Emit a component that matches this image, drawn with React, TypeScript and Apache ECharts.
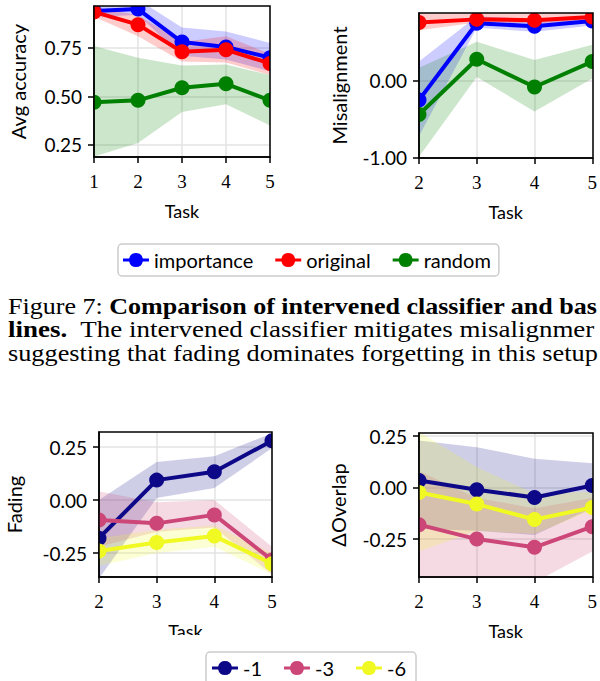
import React, { useEffect, useRef } from 'react';
import * as echarts from 'echarts';

// ---------- data ----------
const tasksAll = [1, 2, 3, 4, 5];
const tasksLater = [2, 3, 4, 5];

const accImportance = [0.94, 0.95, 0.78, 0.755, 0.7];
const accImportanceLo = [0.91, 0.92, 0.71, 0.69, 0.63];
const accImportanceHi = [1.0, 1.0, 0.855, 0.835, 0.775];
const accOriginal = [0.935, 0.87, 0.73, 0.74, 0.67];
const accOriginalLo = [0.91, 0.81, 0.68, 0.675, 0.61];
const accOriginalHi = [0.96, 0.92, 0.78, 0.81, 0.72];
const accRandom = [0.47, 0.48, 0.545, 0.565, 0.48];
const accRandomLo = [0.19, 0.26, 0.42, 0.46, 0.35];
const accRandomHi = [0.76, 0.7, 0.66, 0.665, 0.61];

const misImportance = [-0.25, 0.75, 0.71, 0.78];
const misImportanceLo = [-0.72, 0.69, 0.64, 0.72];
const misImportanceHi = [0.25, 0.84, 0.8, 0.84];
const misOriginal = [0.76, 0.8, 0.79, 0.83];
const misOriginalLo = [0.66, 0.76, 0.75, 0.78];
const misOriginalHi = [0.88, 0.88, 0.88, 0.89];
const misRandom = [-0.44, 0.28, -0.08, 0.25];
const misRandomLo = [-0.99, 0.05, -0.4, 0.03];
const misRandomHi = [0.17, 0.51, 0.27, 0.47];

const fadeM1 = [-0.18, 0.094, 0.133, 0.28];
const fadeM1Lo = [-0.37, 0.01, 0.057, 0.245];
const fadeM1Hi = [0.0, 0.18, 0.207, 0.315];
const fadeM3 = [-0.094, -0.11, -0.07, -0.283];
const fadeM3Lo = [-0.22, -0.15, -0.13, -0.35];
const fadeM3Hi = [0.04, -0.01, 0.0, -0.22];
const fadeM6 = [-0.24, -0.2, -0.17, -0.3];
const fadeM6Lo = [-0.31, -0.25, -0.22, -0.35];
const fadeM6Hi = [-0.18, -0.14, -0.12, -0.25];

const ovM1 = [0.034, -0.01, -0.048, 0.01];
const ovM1Lo = [-0.2, -0.21, -0.23, -0.1];
const ovM1Hi = [0.228, 0.196, 0.14, 0.118];
const ovM3 = [-0.18, -0.25, -0.29, -0.19];
const ovM3Lo = [-0.46, -0.46, -0.46, -0.31];
const ovM3Hi = [0.08, -0.05, -0.1, -0.05];
const ovM6 = [-0.024, -0.08, -0.155, -0.097];
const ovM6Lo = [-0.31, -0.21, -0.225, -0.11];
const ovM6Hi = [0.27, 0.1, -0.03, -0.02];

const legendTop = ['importance', 'original', 'random'];
const legendBottom = ['-1', '-3', '-6'];

const yTicksAcc = [0.25, 0.5, 0.75];
const yTicksMis = [-1, 0];
const yTicksFade = [-0.25, 0, 0.25];
const yTicksOv = [-0.25, 0, 0.25];

const captionLine1a = 'Figure 7: ';
const captionLine1b = 'Comparison of intervened classifier and bas';
const captionLine2a = 'lines.';
const captionLine2b = '  The intervened classifier mitigates misalignmer';
const captionLine3 = 'suggesting that fading dominates forgetting in this setup';

// ---------- style ----------
const BLUE = '#0000ff';
const RED = '#ff0000';
const GREEN = '#008000';
const NAVY = '#0d0887';
const PINK = '#cc4778';
const YELLOW = '#f0f921';

const grids = [
  { left: 94, top: 6, width: 176, height: 151, xmin: 1, ymin: 0.188, ymax: 0.966, ticks: yTicksAcc, name: 'Avg accuracy', gap: 66 },
  { left: 419, top: 13, width: 174, height: 145, xmin: 2, ymin: -1.005, ymax: 0.883, ticks: yTicksMis, name: 'Misalignment', gap: 70 },
  { left: 99, top: 432, width: 173, height: 145, xmin: 2, ymin: -0.363, ymax: 0.321, ticks: yTicksFade, name: 'Fading', gap: 75 },
  { left: 419, top: 433, width: 174, height: 144, xmin: 2, ymin: -0.434, ymax: 0.265, ticks: yTicksOv, name: '\u0394Overlap', gap: 71 },
];

const LEGEND_ICON = 'path://M0,5.5H6.16A7,7 0 0 1 19.84,5.5H26V8.5H19.84A7,7 0 0 1 6.16,8.5H0Z';

function band(gi: number, xs: number[], lo: number[], hi: number[], color: string) {
  return {
    type: 'custom',
    xAxisIndex: gi,
    yAxisIndex: gi,
    clip: true,
    silent: true,
    z: 1,
    data: xs.map((x, i) => [x, lo[i], hi[i]]),
    encode: { x: 0, y: [1, 2] },
    renderItem: (params: any, api: any) => {
      if (params.dataIndex !== 0) return null;
      const top = xs.map((x, i) => api.coord([x, hi[i]]));
      const bot = xs.map((x, i) => api.coord([x, lo[i]])).reverse();
      return {
        type: 'polygon',
        shape: { points: top.concat(bot) },
        style: { fill: echarts.color.modifyAlpha(color, 0.2), stroke: 'none' },
      };
    },
  };
}

function line(gi: number, name: string, xs: number[], ys: number[], color: string) {
  return {
    type: 'custom',
    name,
    xAxisIndex: gi,
    yAxisIndex: gi,
    clip: true,
    silent: true,
    z: 2,
    itemStyle: { color },
    data: xs.map((x, i) => [x, ys[i]]),
    encode: { x: 0, y: 1 },
    renderItem: (params: any, api: any) => {
      if (params.dataIndex !== 0) return null;
      const pts = xs.map((x, i) => api.coord([x, ys[i]]));
      return {
        type: 'group',
        children: [
          {
            type: 'polyline',
            shape: { points: pts },
            style: { stroke: color, lineWidth: 4, fill: null, lineJoin: 'round' },
          },
          ...pts.map((p: number[]) => ({
            type: 'circle',
            shape: { cx: p[0], cy: p[1], r: 7.5 },
            style: { fill: color, stroke: 'none' },
          })),
        ],
      };
    },
  };
}

export default function App() {
  const ref = useRef<HTMLDivElement>(null);
  useEffect(() => {
    if (!ref.current) return;
    const chart = echarts.init(ref.current, undefined, { renderer: 'svg' });

    const series: any[] = [
      band(0, tasksAll, accImportanceLo, accImportanceHi, BLUE),
      band(0, tasksAll, accOriginalLo, accOriginalHi, RED),
      band(0, tasksAll, accRandomLo, accRandomHi, GREEN),
      line(0, legendTop[0], tasksAll, accImportance, BLUE),
      line(0, legendTop[1], tasksAll, accOriginal, RED),
      line(0, legendTop[2], tasksAll, accRandom, GREEN),

      band(1, tasksLater, misImportanceLo, misImportanceHi, BLUE),
      band(1, tasksLater, misOriginalLo, misOriginalHi, RED),
      band(1, tasksLater, misRandomLo, misRandomHi, GREEN),
      line(1, legendTop[0], tasksLater, misImportance, BLUE),
      line(1, legendTop[1], tasksLater, misOriginal, RED),
      line(1, legendTop[2], tasksLater, misRandom, GREEN),

      band(2, tasksLater, fadeM1Lo, fadeM1Hi, NAVY),
      band(2, tasksLater, fadeM3Lo, fadeM3Hi, PINK),
      band(2, tasksLater, fadeM6Lo, fadeM6Hi, YELLOW),
      line(2, legendBottom[0], tasksLater, fadeM1, NAVY),
      line(2, legendBottom[1], tasksLater, fadeM3, PINK),
      line(2, legendBottom[2], tasksLater, fadeM6, YELLOW),

      band(3, tasksLater, ovM1Lo, ovM1Hi, NAVY),
      band(3, tasksLater, ovM3Lo, ovM3Hi, PINK),
      band(3, tasksLater, ovM6Lo, ovM6Hi, YELLOW),
      line(3, legendBottom[0], tasksLater, ovM1, NAVY),
      line(3, legendBottom[1], tasksLater, ovM3, PINK),
      line(3, legendBottom[2], tasksLater, ovM6, YELLOW),
    ];

    const legendCommon = {
      orient: 'horizontal',
      itemWidth: 26,
      itemHeight: 14,
      itemGap: 22,
      borderColor: '#cccccc',
      borderWidth: 1.5,
      borderRadius: 4,
      backgroundColor: '#ffffff',
      selectedMode: false,
      textStyle: { fontFamily: 'Lato', fontSize: 20, color: '#000' },
    };

    const capY1 = 306;
    const capStep = 23.5;
    const serif = 'Liberation Serif';
    const capSize = 24;
    const richCap = {
      n: { fontFamily: serif, fontSize: capSize, fill: '#000' },
      b: { fontFamily: serif, fontSize: capSize, fontWeight: 'bold', fill: '#000' },
    };

    chart.setOption({
      animation: false,
      backgroundColor: '#ffffff',
      grid: grids.map((g) => ({
        left: g.left,
        top: g.top,
        width: g.width,
        height: g.height,
        show: false,
        containLabel: false,
      })),
      xAxis: grids.map((g, i) => ({
        type: 'value',
        gridIndex: i,
        min: g.xmin,
        max: 5,
        interval: 1,
        axisLine: { show: true, onZero: false, lineStyle: { color: '#000', width: 1.5 } },
        axisTick: { show: true, length: 6, lineStyle: { color: '#000', width: 1.5 } },
        axisLabel: { fontFamily: serif, fontSize: 19, color: '#000', margin: 15 },
        splitLine: { show: true, lineStyle: { color: '#e3e3e3', width: 1.5 } },
        name: 'Task',
        nameLocation: 'middle',
        nameGap: 45,
        nameTextStyle: { fontFamily: 'Lato', fontSize: 18, color: '#000' },
      })),
      yAxis: grids.map((g, i) => ({
        type: 'value',
        gridIndex: i,
        min: g.ymin,
        max: g.ymax,
        axisLine: { show: true, onZero: false, lineStyle: { color: '#000', width: 1.5 } },
        axisTick: { show: true, length: 6, customValues: g.ticks, lineStyle: { color: '#000', width: 1.5 } },
        axisLabel: {
          customValues: g.ticks,
          fontFamily: 'Lato',
          fontSize: 19,
          color: '#000',
          margin: 12,
          formatter: (v: number) => v.toFixed(2),
        },
        splitLine: { show: true, lineStyle: { color: '#e3e3e3', width: 1.5 } },
        name: g.name,
        nameLocation: 'middle',
        nameGap: g.gap,
        nameTextStyle: { fontFamily: 'Lato', fontSize: 20, color: '#000' },
      })),
      legend: [
        {
          ...legendCommon,
          left: 118,
          top: 244,
          padding: [6, 8, 6, 5],
          data: legendTop.map((n) => ({ name: n, icon: LEGEND_ICON })),
        },
        {
          ...legendCommon,
          left: 206,
          top: 652,
          padding: [6, 10, 6, 6],
          data: legendBottom.map((n) => ({ name: n, icon: LEGEND_ICON })),
        },
      ],
      graphic: [
        ...grids.map((g) => ({
          type: 'rect',
          z: 100,
          silent: true,
          shape: { x: g.left, y: g.top, width: g.width, height: g.height },
          style: { fill: 'none', stroke: '#000', lineWidth: 1.5 },
        })),
        {
          type: 'rect',
          z: 100,
          silent: true,
          shape: { x: 150, y: 635, width: 80, height: 14 },
          style: { fill: '#ffffff', stroke: 'none' },
        },
        {
          type: 'text',
          z: 100,
          x: 8,
          y: capY1,
          scaleX: 1.085,
          style: {
            text: '{n|' + captionLine1a + '}{b|' + captionLine1b + '}',
            textVerticalAlign: 'middle',
            rich: richCap,
          },
        },
        {
          type: 'text',
          z: 100,
          x: 8,
          y: capY1 + capStep,
          scaleX: 1.125,
          style: {
            text: '{b|' + captionLine2a + '}{n|' + captionLine2b + '}',
            textVerticalAlign: 'middle',
            rich: richCap,
          },
        },
        {
          type: 'text',
          z: 100,
          x: 8,
          y: capY1 + 2 * capStep,
          scaleX: 1.095,
          style: {
            text: captionLine3,
            textVerticalAlign: 'middle',
            font: `${capSize}px "${serif}"`,
            fill: '#000',
          },
        },
      ],
      series,
    });

    return () => chart.dispose();
  }, []);

  return (
    <div
      ref={ref}
      style={{ position: 'absolute', left: 0, top: 0, width: 600, height: 681 }}
    />
  );
}
